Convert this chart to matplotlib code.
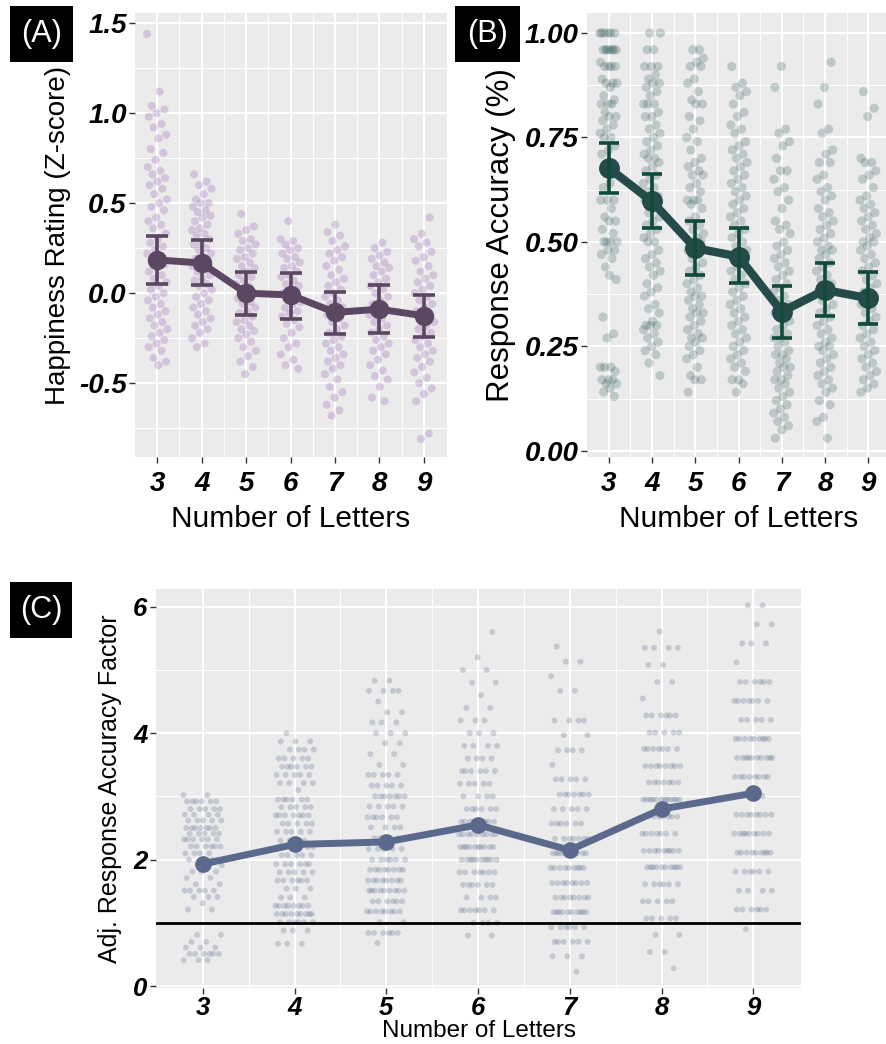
import numpy as np
import matplotlib
matplotlib.use('Agg')
import matplotlib.pyplot as plt
from matplotlib.patches import Rectangle

plt.rcParams['font.family'] = ['Liberation Sans', 'DejaVu Sans']

W, H = 886, 1044

letters = [3, 4, 5, 6, 7, 8, 9]
letter_labels = ['3', '4', '5', '6', '7', '8', '9']

# ---------------- Panel A: happiness rating (Z-score) ----------------
happy_mean = [0.185, 0.167, 0.0, -0.01, -0.107, -0.089, -0.126]
happy_lo = [0.05, 0.043, -0.12, -0.145, -0.226, -0.219, -0.244]
happy_hi = [0.318, 0.296, 0.115, 0.11, 0.007, 0.043, -0.009]

happy_3 = [1.44, 1.12, 1.04, 1.02, 1.0, 0.98, 0.94, 0.92, 0.88, 0.86, 0.8, 0.78, 0.74, 0.7, 0.68,
           0.66, 0.64, 0.62, 0.6, 0.58, 0.55, 0.52, 0.5, 0.48, 0.46, 0.42, 0.4, 0.38, 0.36, 0.33,
           0.3, 0.28, 0.26, 0.24, 0.22, 0.2, 0.18, 0.16, 0.14, 0.12, 0.1, 0.08, 0.06, 0.04, 0.02,
           0.0, -0.02, -0.04, -0.06, -0.08, -0.1, -0.12, -0.14, -0.16, -0.18, -0.2, -0.22, -0.24,
           -0.26, -0.28, -0.3, -0.32, -0.36, -0.38, -0.4]
happy_4 = [0.66, 0.62, 0.6, 0.58, 0.55, 0.52, 0.5, 0.5, 0.48, 0.46, 0.45, 0.43, 0.42, 0.4, 0.38,
           0.36, 0.35, 0.33, 0.32, 0.3, 0.28, 0.27, 0.25, 0.24, 0.22, 0.2, 0.19, 0.18, 0.16, 0.15,
           0.13, 0.12, 0.1, 0.08, 0.07, 0.05, 0.04, 0.02, 0.0, -0.02, -0.04, -0.06, -0.08, -0.1,
           -0.12, -0.14, -0.16, -0.18, -0.2, -0.22, -0.25, -0.28, -0.3]
happy_5 = [0.44, 0.37, 0.35, 0.33, 0.3, 0.29, 0.27, 0.25, 0.24, 0.22, 0.2, 0.19, 0.17, 0.15, 0.14,
           0.12, 0.1, 0.09, 0.07, 0.05, 0.04, 0.02, 0.0, -0.01, -0.03, -0.05, -0.06, -0.08, -0.1,
           -0.11, -0.13, -0.15, -0.16, -0.18, -0.2, -0.21, -0.23, -0.25, -0.27, -0.3, -0.32, -0.35,
           -0.38, -0.41, -0.45]
happy_6 = [0.4, 0.3, 0.29, 0.27, 0.25, 0.24, 0.22, 0.2, 0.19, 0.17, 0.15, 0.14, 0.12, 0.1, 0.09,
           0.07, 0.05, 0.04, 0.02, 0.0, -0.01, -0.03, -0.05, -0.06, -0.08, -0.1, -0.11, -0.13,
           -0.15, -0.17, -0.19, -0.22, -0.25, -0.28, -0.3, -0.34, -0.37, -0.4, -0.42]
happy_7 = [0.38, 0.34, 0.32, 0.29, 0.26, 0.24, 0.22, 0.2, 0.18, 0.15, 0.13, 0.1, 0.08, 0.06, 0.04,
           0.02, 0.0, -0.02, -0.04, -0.06, -0.08, -0.1, -0.12, -0.14, -0.16, -0.18, -0.2, -0.22,
           -0.24, -0.26, -0.28, -0.3, -0.32, -0.34, -0.36, -0.38, -0.4, -0.42, -0.45, -0.48, -0.52,
           -0.55, -0.58, -0.62, -0.65, -0.68]
happy_8 = [0.28, 0.25, 0.23, 0.21, 0.19, 0.17, 0.15, 0.14, 0.12, 0.1, 0.08, 0.06, 0.04, 0.02, 0.0,
           -0.02, -0.04, -0.06, -0.08, -0.1, -0.12, -0.14, -0.16, -0.18, -0.2, -0.22, -0.24, -0.26,
           -0.28, -0.3, -0.32, -0.34, -0.37, -0.4, -0.43, -0.46, -0.48, -0.52, -0.58, -0.6]
happy_9 = [0.42, 0.33, 0.3, 0.28, 0.26, 0.23, 0.2, 0.18, 0.15, 0.12, 0.1, 0.08, 0.06, 0.04, 0.02,
           0.0, -0.02, -0.04, -0.06, -0.08, -0.1, -0.12, -0.14, -0.16, -0.18, -0.2, -0.22, -0.24,
           -0.26, -0.28, -0.3, -0.32, -0.34, -0.36, -0.38, -0.41, -0.44, -0.47, -0.5, -0.53, -0.56,
           -0.6, -0.78, -0.81]
happy_points = [happy_3, happy_4, happy_5, happy_6, happy_7, happy_8, happy_9]

# ---------------- Panel B: response accuracy ----------------
acc_mean = [0.677, 0.597, 0.485, 0.465, 0.333, 0.385, 0.365]
acc_lo = [0.617, 0.533, 0.42, 0.401, 0.269, 0.323, 0.304]
acc_hi = [0.736, 0.663, 0.551, 0.533, 0.395, 0.449, 0.429]

acc_3 = [1.0, 1.0, 1.0, 1.0, 1.0, 1.0, 0.96, 0.96, 0.96, 0.96, 0.96, 0.96, 0.96, 0.93, 0.92, 0.92,
         0.92, 0.92, 0.89, 0.88, 0.88, 0.88, 0.87, 0.85, 0.84, 0.83, 0.83, 0.83, 0.81, 0.80, 0.80,
         0.79, 0.78, 0.77, 0.76, 0.75, 0.75, 0.73, 0.72, 0.71, 0.69, 0.67, 0.66, 0.64, 0.63, 0.60,
         0.60, 0.60, 0.58, 0.56, 0.55, 0.55, 0.53, 0.52, 0.50, 0.50, 0.50, 0.50, 0.48, 0.48, 0.47,
         0.46, 0.44, 0.41, 0.42, 0.32, 0.28, 0.27, 0.20, 0.20, 0.20, 0.19, 0.17, 0.17, 0.17, 0.16,
         0.16, 0.15, 0.14, 0.13]
acc_4 = [1.0, 1.0, 0.96, 0.96, 0.92, 0.92, 0.92, 0.90, 0.89, 0.88, 0.88, 0.87, 0.86, 0.85, 0.83,
         0.83, 0.83, 0.81, 0.80, 0.80, 0.78, 0.77, 0.76, 0.75, 0.74, 0.73, 0.72, 0.71, 0.70, 0.70,
         0.69, 0.68, 0.67, 0.66, 0.65, 0.64, 0.63, 0.62, 0.61, 0.60, 0.60, 0.58, 0.57, 0.56, 0.55,
         0.54, 0.53, 0.52, 0.51, 0.50, 0.50, 0.48, 0.47, 0.46, 0.45, 0.44, 0.43, 0.42, 0.40, 0.39,
         0.38, 0.37, 0.35, 0.34, 0.33, 0.31, 0.30, 0.30, 0.30, 0.29, 0.28, 0.27, 0.26, 0.25, 0.24,
         0.23, 0.21, 0.18]
acc_5 = [0.96, 0.96, 0.94, 0.93, 0.92, 0.92, 0.89, 0.88, 0.86, 0.84, 0.83, 0.83, 0.80, 0.79, 0.77,
         0.75, 0.74, 0.72, 0.70, 0.69, 0.68, 0.67, 0.66, 0.66, 0.64, 0.63, 0.62, 0.60, 0.60, 0.60,
         0.59, 0.58, 0.56, 0.55, 0.54, 0.53, 0.52, 0.51, 0.50, 0.50, 0.49, 0.48, 0.47, 0.46, 0.45,
         0.44, 0.43, 0.42, 0.41, 0.40, 0.39, 0.38, 0.37, 0.37, 0.36, 0.35, 0.34, 0.33, 0.33, 0.32,
         0.31, 0.30, 0.29, 0.28, 0.27, 0.27, 0.26, 0.25, 0.24, 0.23, 0.22, 0.20, 0.18, 0.17, 0.17,
         0.14]
acc_6 = [0.92, 0.88, 0.87, 0.86, 0.85, 0.83, 0.81, 0.80, 0.78, 0.77, 0.76, 0.74, 0.73, 0.72, 0.71,
         0.70, 0.69, 0.68, 0.67, 0.66, 0.65, 0.64, 0.63, 0.62, 0.61, 0.60, 0.59, 0.58, 0.57, 0.56,
         0.55, 0.54, 0.53, 0.52, 0.51, 0.50, 0.49, 0.48, 0.47, 0.46, 0.45, 0.44, 0.43, 0.42, 0.41,
         0.40, 0.39, 0.38, 0.37, 0.36, 0.35, 0.34, 0.33, 0.32, 0.31, 0.30, 0.29, 0.28, 0.27, 0.26,
         0.25, 0.24, 0.23, 0.22, 0.21, 0.20, 0.19, 0.17, 0.17, 0.16, 0.14]
acc_7 = [0.92, 0.87, 0.77, 0.76, 0.74, 0.73, 0.70, 0.67, 0.67, 0.65, 0.63, 0.62, 0.60, 0.58, 0.55,
         0.54, 0.53, 0.52, 0.50, 0.49, 0.48, 0.47, 0.46, 0.45, 0.44, 0.43, 0.42, 0.41, 0.40, 0.39,
         0.38, 0.37, 0.36, 0.35, 0.34, 0.33, 0.33, 0.32, 0.31, 0.30, 0.29, 0.28, 0.27, 0.27, 0.26,
         0.25, 0.24, 0.23, 0.23, 0.22, 0.21, 0.20, 0.20, 0.19, 0.18, 0.17, 0.17, 0.16, 0.15, 0.14,
         0.13, 0.12, 0.11, 0.10, 0.09, 0.08, 0.07, 0.06, 0.05, 0.03]
acc_8 = [0.93, 0.87, 0.83, 0.77, 0.76, 0.72, 0.71, 0.69, 0.69, 0.66, 0.65, 0.63, 0.62, 0.61, 0.60,
         0.58, 0.57, 0.56, 0.55, 0.54, 0.53, 0.52, 0.51, 0.50, 0.49, 0.48, 0.48, 0.47, 0.46, 0.45,
         0.44, 0.43, 0.42, 0.41, 0.40, 0.39, 0.38, 0.37, 0.36, 0.35, 0.34, 0.33, 0.32, 0.31, 0.30,
         0.29, 0.28, 0.27, 0.26, 0.25, 0.25, 0.24, 0.23, 0.22, 0.21, 0.20, 0.19, 0.18, 0.17, 0.16,
         0.15, 0.14, 0.12, 0.11, 0.08, 0.07, 0.03]
acc_9 = [0.86, 0.82, 0.80, 0.70, 0.69, 0.69, 0.67, 0.66, 0.65, 0.63, 0.61, 0.60, 0.59, 0.58, 0.57,
         0.56, 0.55, 0.54, 0.53, 0.52, 0.51, 0.50, 0.50, 0.49, 0.48, 0.47, 0.46, 0.45, 0.44, 0.43,
         0.42, 0.41, 0.40, 0.39, 0.38, 0.37, 0.36, 0.35, 0.34, 0.33, 0.32, 0.31, 0.30, 0.29, 0.28,
         0.27, 0.26, 0.25, 0.24, 0.23, 0.22, 0.21, 0.20, 0.19, 0.18, 0.17, 0.16, 0.15, 0.14]
acc_points = [acc_3, acc_4, acc_5, acc_6, acc_7, acc_8, acc_9]

# ---------------- Panel C: adjusted response accuracy factor ----------------
factor_mean = [1.93, 2.24, 2.28, 2.55, 2.15, 2.8, 3.05]
reference_line = 1.0

# observed value levels and how many points sit on each level
fac_3_levels = [3.02, 2.92, 2.8, 2.71, 2.62, 2.5, 2.41, 2.32, 2.21, 2.1, 2.0, 1.91, 1.81, 1.71,
                1.61, 1.51, 1.41, 1.31, 1.21, 0.81, 0.7, 0.61, 0.51, 0.41]
fac_3_counts = [2, 6, 5, 4, 5, 7, 5, 6, 6, 4, 4, 3, 3, 2, 2, 5, 3, 1, 2, 2, 2, 3, 6, 3]
fac_4_levels = [4.0, 3.87, 3.74, 3.6, 3.47, 3.34, 3.21, 3.1, 2.95, 2.83, 2.7, 2.57, 2.44, 2.3,
                2.2, 2.07, 1.93, 1.8, 1.67, 1.54, 1.4, 1.27, 1.14, 1.01, 0.88, 0.67]
fac_4_counts = [1, 3, 4, 5, 6, 5, 4, 1, 6, 5, 7, 5, 5, 4, 6, 5, 6, 5, 6, 3, 3, 8, 9, 6, 3, 3]
fac_5_levels = [4.83, 4.67, 4.5, 4.33, 4.17, 4.0, 3.84, 3.67, 3.5, 3.34, 3.17, 3.0, 2.84, 2.67,
                2.51, 2.34, 2.17, 2.0, 1.84, 1.67, 1.51, 1.34, 1.18, 1.01, 0.84, 0.68]
fac_5_counts = [2, 4, 1, 2, 3, 3, 2, 2, 2, 5, 5, 7, 5, 6, 4, 5, 5, 6, 8, 8, 9, 6, 8, 2, 6, 1]
fac_6_levels = [5.6, 5.2, 5.0, 4.8, 4.6, 4.4, 4.2, 4.0, 3.8, 3.6, 3.4, 3.2, 3.0, 2.8, 2.6, 2.4,
                2.2, 2.0, 1.8, 1.6, 1.4, 1.2, 1.0, 0.8]
fac_6_counts = [1, 1, 2, 2, 1, 2, 3, 3, 4, 4, 6, 5, 4, 6, 8, 9, 10, 10, 7, 6, 4, 7, 4, 2]
fac_7_levels = [5.37, 5.13, 4.9, 4.67, 4.2, 3.97, 3.73, 3.5, 3.27, 3.03, 2.8, 2.57, 2.33, 2.1,
                1.87, 1.63, 1.4, 1.17, 0.93, 0.7, 0.47, 0.23]
fac_7_counts = [1, 2, 1, 2, 4, 2, 4, 1, 5, 7, 5, 6, 7, 9, 9, 8, 8, 10, 6, 6, 3, 1]
fac_8_levels = [5.61, 5.35, 5.08, 4.81, 4.55, 4.28, 4.01, 3.75, 3.48, 3.22, 2.95, 2.68, 2.41,
                2.14, 1.88, 1.61, 1.34, 1.07, 0.81, 0.54, 0.28]
fac_8_counts = [1, 4, 2, 2, 1, 6, 5, 7, 8, 7, 12, 8, 7, 9, 10, 6, 5, 5, 2, 2, 1]
fac_9_levels = [6.02, 5.72, 5.42, 5.12, 4.81, 4.51, 4.21, 3.91, 3.61, 3.31, 3.01, 2.71, 2.41,
                2.11, 1.81, 1.51, 1.21, 0.9]
fac_9_counts = [2, 2, 3, 1, 6, 7, 5, 9, 10, 8, 3, 8, 9, 9, 6, 4, 6, 1]
fac_levels = [fac_3_levels, fac_4_levels, fac_5_levels, fac_6_levels, fac_7_levels,
              fac_8_levels, fac_9_levels]
fac_counts = [fac_3_counts, fac_4_counts, fac_5_counts, fac_6_counts, fac_7_counts,
              fac_8_counts, fac_9_counts]

# ---------------- styling ----------------
PANEL_BG = '#EBEBEB'


def jitter_offsets(n, width, start):
    # deterministic, evenly spread horizontal positions within +/- width
    phi = 0.6180339887
    return ((np.arange(n) * phi + start) % 1.0 - 0.5) * 2 * width


def style_axes(ax, xlim, ylim, yticks, ylabels, yminor, xlabel, ylabel,
               xfs=21.5, yfs=20, tfs=20, xpad=6, xlpad=2, ylpad=6):
    ax.set_facecolor(PANEL_BG)
    for s in ax.spines.values():
        s.set_visible(False)
    ax.set_xlim(*xlim)
    ax.set_ylim(*ylim)
    ax.set_xticks(letters)
    ax.set_xticklabels(letter_labels, fontsize=tfs, fontweight='bold', fontstyle='italic')
    ax.set_xticks([3.5, 4.5, 5.5, 6.5, 7.5, 8.5], minor=True)
    ax.set_yticks(yticks)
    ax.set_yticklabels(ylabels, fontsize=tfs, fontweight='bold', fontstyle='italic')
    ax.set_yticks(yminor, minor=True)
    ax.grid(which='major', color='white', linewidth=1.5)
    ax.grid(which='minor', color='white', linewidth=0.7)
    ax.set_axisbelow(True)
    ax.tick_params(which='major', length=4, width=1, color='#333333')
    ax.tick_params(axis='x', which='major', pad=xpad)
    ax.tick_params(axis='y', which='major', pad=2)
    ax.tick_params(which='minor', length=0)
    ax.set_xlabel(xlabel, fontsize=xfs, labelpad=xlpad)
    ax.set_ylabel(ylabel, fontsize=yfs, labelpad=ylpad)


def panel_tag(fig, text, x0, y0, x1, y1, fs=22):
    fig.add_artist(Rectangle((x0 / W, 1 - y1 / H), (x1 - x0) / W, (y1 - y0) / H,
                             transform=fig.transFigure, facecolor='black',
                             edgecolor='none'))
    fig.text((x0 + x1) / 2 / W, 1 - (y0 + y1) / 2 / H, text, color='white',
             fontsize=fs, ha='center', va='center')


fig = plt.figure(figsize=(W / 100, H / 100), dpi=100)

# ---- Panel A ----
axA = fig.add_axes([135 / W, 1 - 457 / H, 312 / W, 444 / H])
style_axes(axA, (2.5, 9.52), (-0.91, 1.556),
           [-0.5, 0.0, 0.5, 1.0, 1.5], ['-0.5', '0.0', '0.5', '1.0', '1.5'],
           [-0.75, -0.25, 0.25, 0.75, 1.25],
           'Number of Letters', 'Happiness Rating (Z-score)', yfs=20, xlpad=6, ylpad=6)
for i, (x, vals) in enumerate(zip(letters, happy_points)):
    xs = x + jitter_offsets(len(vals), 0.23, 0.13 * i)
    axA.scatter(xs, vals, s=34, color='#ad86c2', alpha=0.38, edgecolors='none', zorder=2)
colA = '#5c4762'
axA.errorbar(letters, happy_mean,
             yerr=[np.array(happy_mean) - np.array(happy_lo),
                   np.array(happy_hi) - np.array(happy_mean)],
             fmt='none', ecolor=colA, elinewidth=2.6, capsize=8, capthick=2.6, zorder=3)
axA.plot(letters, happy_mean, color=colA, linewidth=5, marker='o', markersize=13,
         zorder=4)

# ---- Panel B ----
axB = fig.add_axes([587 / W, 1 - 457 / H, 303 / W, 444 / H])
style_axes(axB, (2.5, 9.5), (-0.015, 1.048),
           [0.0, 0.25, 0.5, 0.75, 1.0], ['0.00', '0.25', '0.50', '0.75', '1.00'],
           [0.125, 0.375, 0.625, 0.875],
           'Number of Letters', 'Response Accuracy (%)', yfs=22.5, xlpad=6, ylpad=6)
for i, (x, vals) in enumerate(zip(letters, acc_points)):
    xs = x + jitter_offsets(len(vals), 0.2, 0.37 * i)
    axB.scatter(xs, vals, s=44, color='#2f5858', alpha=0.24, edgecolors='none', zorder=2)
colB = '#244a4a'
axB.errorbar(letters, acc_mean,
             yerr=[np.array(acc_mean) - np.array(acc_lo),
                   np.array(acc_hi) - np.array(acc_mean)],
             fmt='none', ecolor='#0f4a3a', elinewidth=2.6, capsize=7, capthick=2.6, zorder=5)
axB.plot(letters, acc_mean, color=colB, linewidth=6, marker='o', markersize=14, zorder=4)

# ---- Panel C ----
axC = fig.add_axes([156 / W, 1 - 988 / H, 645 / W, 399 / H])
style_axes(axC, (2.49, 9.52), (-0.03, 6.28),
           [0, 2, 4, 6], ['0', '2', '4', '6'], [1, 3, 5],
           'Number of Letters', 'Adj. Response Accuracy Factor', xfs=17.5, yfs=18, tfs=18.5,
           xpad=1.5, xlpad=0, ylpad=8)
for i, (x, lev, cnt) in enumerate(zip(letters, fac_levels, fac_counts)):
    vals = np.repeat(lev, cnt)
    xs = x + jitter_offsets(len(vals), 0.21, 0.29 * i)
    axC.scatter(xs, vals, s=18, color='#5b6a8c', alpha=0.27, edgecolors='none', zorder=2)
axC.axhline(reference_line, color='black', linewidth=2, zorder=3)
axC.plot(letters, factor_mean, color='#5b6a8c', linewidth=5, marker='o', markersize=11,
         zorder=4)

# ---- panel tags ----
panel_tag(fig, '(A)', 10, 6, 73, 62)
panel_tag(fig, '(B)', 455, 6, 520, 62)
panel_tag(fig, '(C)', 10, 582, 72, 638)

fig.savefig('out.png', dpi=100)
